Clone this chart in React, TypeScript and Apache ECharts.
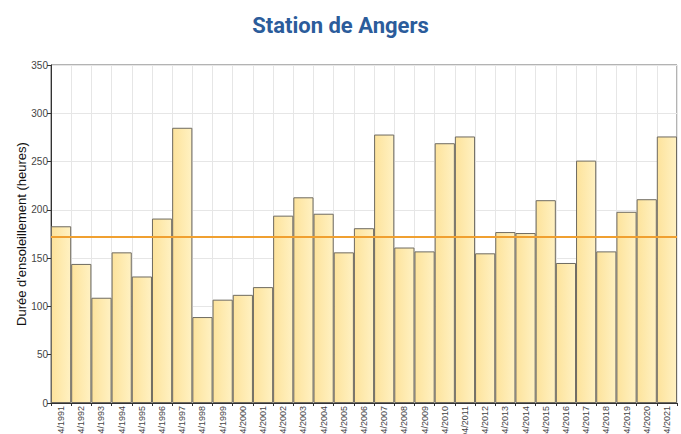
import React, { useEffect, useRef } from "react";
import * as echarts from "echarts";

const years = [
  "04/1991", "04/1992", "04/1993", "04/1994", "04/1995", "04/1996", "04/1997", "04/1998",
  "04/1999", "04/2000", "04/2001", "04/2002", "04/2003", "04/2004", "04/2005", "04/2006",
  "04/2007", "04/2008", "04/2009", "04/2010", "04/2011", "04/2012", "04/2013", "04/2014",
  "04/2015", "04/2016", "04/2017", "04/2018", "04/2019", "04/2020", "04/2021",
];
const sunshineHours = [
  183, 144, 109, 156, 131, 191, 285, 89,
  107, 112, 120, 194, 213, 196, 156, 181,
  278, 161, 157, 269, 276, 155, 177, 176,
  210, 145, 251, 157, 198, 211, 276,
];
const normalValue = 172;

export default function App() {
  const ref = useRef<HTMLDivElement>(null);
  useEffect(() => {
    if (!ref.current) return;
    const chart = echarts.init(ref.current, null, { renderer: "svg" });
    chart.setOption({
      animation: false,
      title: {
        text: "Station de Angers",
        left: "center",
        top: 9,
        textStyle: {
          fontFamily: "'Liberation Sans Narrow', 'Roboto', sans-serif",
          fontWeight: "bold",
          fontSize: 22,
          color: "#2b5c9b",
        },
      },
      grid: {
        left: 51,
        right: 4,
        top: 65,
        bottom: 31,
        outerBoundsMode: "none",
        containLabel: false,
        show: true,
        borderColor: "#666",
        borderWidth: 1,
      },
      xAxis: {
        type: "category",
        data: years,
        boundaryGap: true,
        axisLine: { lineStyle: { color: "#333" } },
        axisTick: { show: true, alignWithLabel: false, length: 3, lineStyle: { color: "#333" } },
        splitLine: { show: true, lineStyle: { color: "#e6e6e6" } },
        axisLabel: {
          rotate: 90,
          interval: 0,
          fontSize: 9,
          color: "#444",
          fontFamily: "'Liberation Sans Narrow', 'Liberation Sans', sans-serif",
          margin: 3,
        },
      },
      yAxis: {
        type: "value",
        min: 0,
        max: 350,
        interval: 50,
        name: "Durée d'ensoleillement (heures)",
        nameLocation: "middle",
        nameGap: 23,
        nameMoveOverlap: false,
        nameTextStyle: {
          fontSize: 13,
          color: "#111",
          fontFamily: "'Liberation Sans', Arial, sans-serif",
        },
        axisLine: { show: true, lineStyle: { color: "#333" } },
        axisTick: { show: true, length: 4, lineStyle: { color: "#333" } },
        splitLine: { show: true, lineStyle: { color: "#e6e6e6" } },
        axisLabel: {
          fontSize: 10,
          color: "#444",
          margin: 3,
          fontFamily: "'Liberation Sans Narrow', 'Liberation Sans', sans-serif",
        },
      },
      series: [
        {
          type: "bar",
          data: sunshineHours,
          barCategoryGap: "0%",
          itemStyle: {
            color: new echarts.graphic.LinearGradient(0, 0, 1, 0, [
              { offset: 0, color: "#fde39c" },
              { offset: 1, color: "#fff1c2" },
            ]),
            borderColor: "#6e6a60",
            borderWidth: 1,
          },
          markLine: {
            silent: true,
            symbol: "none",
            label: { show: false },
            lineStyle: { color: "#f0a030", width: 2, type: "solid" },
            data: [{ yAxis: normalValue }],
          },
        },
      ],
    });
    return () => chart.dispose();
  }, []);
  return <div ref={ref} style={{ width: 681, height: 434, position: "absolute", left: 0, top: 0 }} />;
}
